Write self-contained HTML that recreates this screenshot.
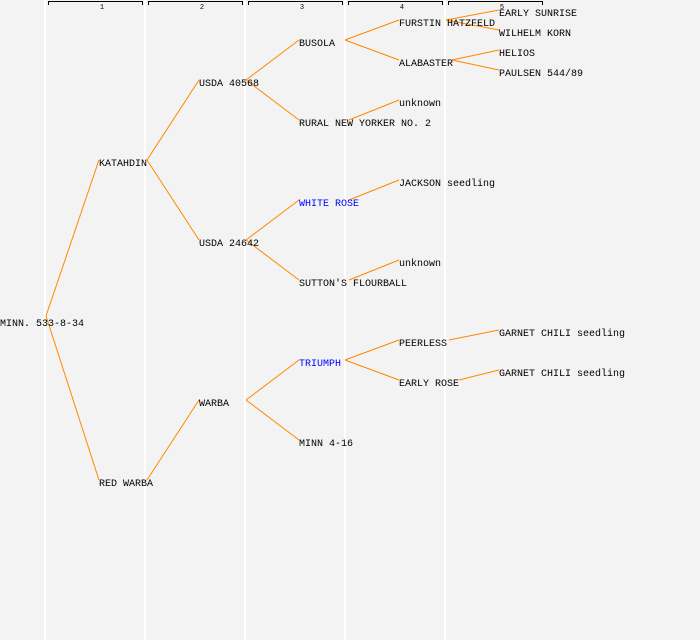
<!DOCTYPE html>
<html><head><style>body{margin:0;background:#f3f3f3}svg{display:block}</style></head><body>
<svg width="700" height="640" xmlns="http://www.w3.org/2000/svg" font-family="Liberation Mono, DejaVu Sans Mono, monospace" font-size="10">
<rect width="700" height="640" fill="#f3f3f3"/>
<g stroke="#fff" stroke-width="2">
<line x1="45" y1="0" x2="45" y2="640"/><line x1="145" y1="0" x2="145" y2="640"/><line x1="245" y1="0" x2="245" y2="640"/><line x1="345" y1="0" x2="345" y2="640"/><line x1="445" y1="0" x2="445" y2="640"/>
</g>
<g stroke="#000" stroke-width="1" fill="none">
<path d="M48.5 5V1.5H142.5V5"/><path d="M148.5 5V1.5H242.5V5"/><path d="M248.5 5V1.5H342.5V5"/><path d="M348.5 5V1.5H442.5V5"/><path d="M448.5 5V1.5H542.5V5"/>
</g>
<g font-size="7" text-anchor="middle" fill="#000">
<text x="102" y="9">1</text><text x="202" y="9">2</text><text x="302" y="9">3</text><text x="402" y="9">4</text><text x="502" y="9">5</text>
</g>
<g stroke="#ff8800" stroke-width="1" fill="none">
<line x1="46" y1="316" x2="99" y2="160"/><line x1="46" y1="316" x2="99" y2="480"/>
<line x1="147" y1="160" x2="199" y2="80"/><line x1="147" y1="160" x2="199" y2="240"/>
<line x1="147" y1="480" x2="199" y2="400"/>
<line x1="246" y1="80" x2="299" y2="40"/><line x1="246" y1="80" x2="299" y2="120"/>
<line x1="246" y1="240" x2="299" y2="200"/><line x1="246" y1="240" x2="299" y2="280"/>
<line x1="246" y1="400" x2="299" y2="360"/><line x1="246" y1="400" x2="299" y2="440"/>
<line x1="345" y1="40" x2="399" y2="20"/><line x1="345" y1="40" x2="399" y2="60"/>
<line x1="349" y1="120" x2="399" y2="100"/>
<line x1="349" y1="200" x2="399" y2="180"/>
<line x1="349" y1="280" x2="399" y2="260"/>
<line x1="345" y1="360" x2="399" y2="340"/><line x1="345" y1="360" x2="399" y2="380"/>
<line x1="446" y1="20" x2="499" y2="10"/><line x1="446" y1="20" x2="499" y2="30"/>
<line x1="452" y1="60" x2="499" y2="50"/><line x1="452" y1="60" x2="499" y2="70"/>
<line x1="449" y1="340" x2="499" y2="330"/>
<line x1="459" y1="380" x2="499" y2="370"/>
</g>
<g fill="#000">
<text x="0" y="326">MINN. 533-8-34</text>
<text x="99" y="166">KATAHDIN</text><text x="99" y="486">RED WARBA</text>
<text x="199" y="86">USDA 40568</text><text x="199" y="246">USDA 24642</text><text x="199" y="406">WARBA</text>
<text x="299" y="46">BUSOLA</text><text x="299" y="126">RURAL NEW YORKER NO. 2</text>
<text x="299" y="206" fill="#0000ff">WHITE ROSE</text><text x="299" y="286">SUTTON'S FLOURBALL</text>
<text x="299" y="366" fill="#0000ff">TRIUMPH</text><text x="299" y="446">MINN 4-16</text>
<text x="399" y="26">FURSTIN HATZFELD</text><text x="399" y="66">ALABASTER</text>
<text x="399" y="106">unknown</text><text x="399" y="186">JACKSON seedling</text>
<text x="399" y="266">unknown</text><text x="399" y="346">PEERLESS</text><text x="399" y="386">EARLY ROSE</text>
<text x="499" y="16">EARLY SUNRISE</text><text x="499" y="36">WILHELM KORN</text>
<text x="499" y="56">HELIOS</text><text x="499" y="76">PAULSEN 544/89</text>
<text x="499" y="336">GARNET CHILI seedling</text><text x="499" y="376">GARNET CHILI seedling</text>
</g>
</svg>
</body></html>
